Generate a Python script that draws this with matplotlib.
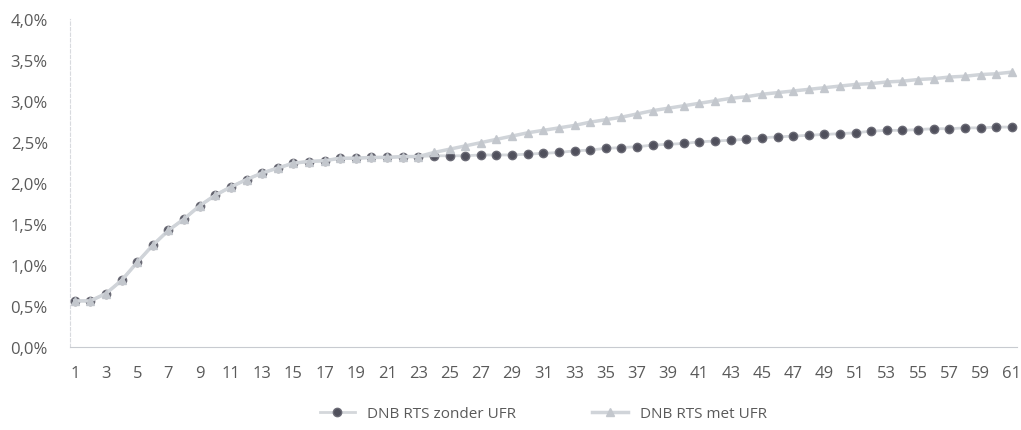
import numpy as np
import matplotlib.pyplot as plt
from matplotlib.ticker import FuncFormatter, MultipleLocator

# looptijd in jaren
years = list(range(1, 62))

# gedeelde deel van de curve (1..23), daarna lopen ze uiteen
common = [0.56, 0.56, 0.65, 0.81, 1.03, 1.24, 1.42, 1.56, 1.72, 1.85,
          1.95, 2.04, 2.12, 2.18, 2.24, 2.26, 2.27, 2.30, 2.30, 2.31,
          2.31, 2.32, 2.32]

zonder_tail = [2.33, 2.33, 2.33, 2.34, 2.34, 2.34, 2.35, 2.36, 2.37, 2.39,
               2.40, 2.42, 2.43, 2.44, 2.46, 2.47, 2.48, 2.50, 2.51, 2.52,
               2.53, 2.55, 2.56, 2.57, 2.58, 2.59, 2.60, 2.61, 2.63, 2.64,
               2.64, 2.65, 2.66, 2.66, 2.67, 2.67, 2.68, 2.68]

met_tail = [2.37, 2.41, 2.45, 2.49, 2.53, 2.57, 2.61, 2.64, 2.67, 2.70,
            2.74, 2.77, 2.80, 2.84, 2.88, 2.91, 2.94, 2.97, 3.00, 3.03,
            3.05, 3.08, 3.10, 3.12, 3.14, 3.16, 3.18, 3.20, 3.21, 3.23,
            3.24, 3.26, 3.27, 3.29, 3.30, 3.32, 3.33, 3.35]

zonder_ufr = np.array(common + zonder_tail)
met_ufr = np.array(common + met_tail)

plt.rcParams['font.family'] = ['Open Sans', 'DejaVu Sans']
text_col = '#5a5a5a'

fig = plt.figure(figsize=(10.21, 4.31), dpi=100)
ax = fig.add_axes([0.0686, 0.193, 0.927, 0.761])

ax.plot(years, zonder_ufr, color='#d4d7db', lw=2, linestyle='-',
        marker='o', markersize=6, markerfacecolor='#50505c',
        markeredgecolor='#6a6a75', label='DNB RTS zonder UFR', zorder=3)
ax.plot(years, met_ufr, color='#d0d4d9', lw=2.5,
        marker='^', markersize=6, markerfacecolor='#c3c7cd',
        markeredgecolor='#c3c7cd', label='DNB RTS met UFR', zorder=4)

ax.set_xlim(0.7, 61.3)
ax.set_ylim(0, 4.0)
ax.yaxis.set_major_locator(MultipleLocator(0.5))
ax.yaxis.set_major_formatter(FuncFormatter(lambda v, p: f"{v:.1f}%".replace('.', ',')))
ax.set_xticks(years[::2])

for s in ['top', 'right']:
    ax.spines[s].set_visible(False)
ax.spines['left'].set_color('#d8dade')
ax.spines['left'].set_linestyle((0, (3, 2)))
ax.spines['bottom'].set_color('#c8cbd0')

ax.tick_params(axis='both', length=0, colors=text_col)
ax.tick_params(axis='y', pad=16, labelsize=12)
ax.tick_params(axis='x', pad=13, labelsize=12)

leg = ax.legend(loc='upper center', bbox_to_anchor=(0.5, -0.14), ncol=2,
                frameon=False, fontsize=11, handlelength=2.3, columnspacing=5)
for t in leg.get_texts():
    t.set_color(text_col)

fig.savefig('out.png', dpi=100)
